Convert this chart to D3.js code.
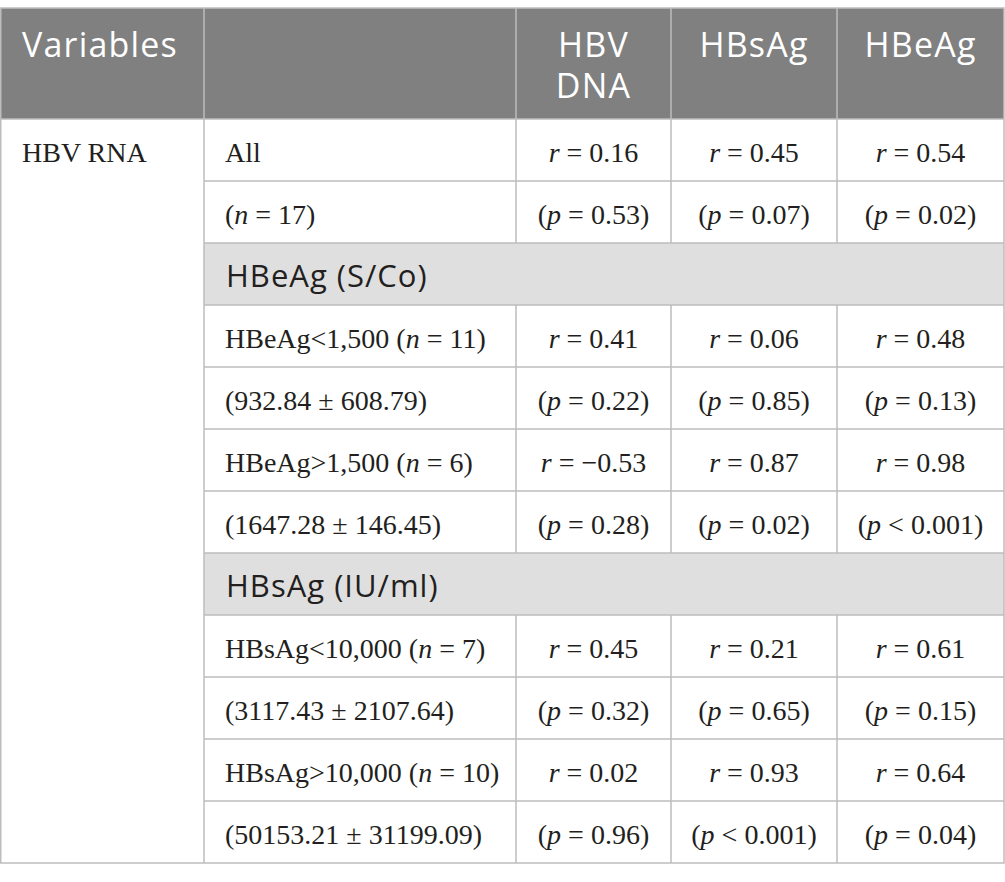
<!DOCTYPE html>
<html>
<head>
    <meta charset="UTF-8">
    <title>HBV RNA correlations</title>
    <script src="https://d3js.org/d3.v7.min.js"></script>
    <style>
        body { margin: 0; background: #fff; }
        .serif { font-family: "Liberation Serif", "Times New Roman", serif; font-size: 28px; fill: #231f20; }
        .sans { font-family: "Open Sans", "Noto Sans", sans-serif; }
    </style>
</head>
<body>
    <div id="table"></div>

    <script>
        // Table content
        var headers = ["Variables", "", "HBV DNA", "HBsAg", "HBeAg"];
        var variable = "HBV RNA";
        var groupLabels = ["All", "HBeAg<1,500 (*n* = 11)", "HBeAg>1,500 (*n* = 6)",
                           "HBsAg<10,000 (*n* = 7)", "HBsAg>10,000 (*n* = 10)"];
        var groupSubLabels = ["(*n* = 17)", "(932.84 ± 608.79)", "(1647.28 ± 146.45)",
                              "(3117.43 ± 2107.64)", "(50153.21 ± 31199.09)"];
        var rDNA   = [0.16, 0.41, -0.53, 0.45, 0.02];
        var rHBsAg = [0.45, 0.06, 0.87, 0.21, 0.93];
        var rHBeAg = [0.54, 0.48, 0.98, 0.61, 0.64];
        var pDNA   = ["= 0.53", "= 0.22", "= 0.28", "= 0.32", "= 0.96"];
        var pHBsAg = ["= 0.07", "= 0.85", "= 0.02", "= 0.65", "< 0.001"];
        var pHBeAg = ["= 0.02", "= 0.13", "< 0.001", "= 0.15", "= 0.04"];
        var sectionTitles = ["HBeAg (S/Co)", "HBsAg (IU/ml)"];
        var sectionBefore = [1, 3];   // section header goes before this group

        var width = 1005, height = 882;
        var colEdges = [0, 204, 516, 671, 837, 1004];
        var tableTop = 8, headerH = 111, rowH = 62;
        var fmt = d3.format(".2f");
        var lineColor = "#bdbdbd";

        // build the list of body rows
        var rows = [];
        groupLabels.forEach(function (g, i) {
            var s = sectionBefore.indexOf(i);
            if (s >= 0) rows.push({type: "section", title: sectionTitles[s]});
            rows.push({type: "data", label: g,
                cells: ["*r* = " + fmt(rDNA[i]), "*r* = " + fmt(rHBsAg[i]), "*r* = " + fmt(rHBeAg[i])]});
            rows.push({type: "data", label: groupSubLabels[i],
                cells: ["(*p* " + pDNA[i] + ")", "(*p* " + pHBsAg[i] + ")", "(*p* " + pHBeAg[i] + ")"]});
        });

        var y = d3.scaleLinear().domain([0, rows.length])
            .range([tableTop + headerH, tableTop + headerH + rows.length * rowH]);
        var bodyBottom = y(rows.length);

        var svg = d3.select("#table").append("svg")
            .attr("width", width)
            .attr("height", height);

        // write text with *italic* parts as tspans
        function richText(sel, str) {
            str.split("*").forEach(function (part, k) {
                if (!part) return;
                sel.append("tspan")
                    .style("font-style", k % 2 ? "italic" : "normal")
                    .text(part);
            });
        }

        // header
        svg.append("rect")
            .attr("x", colEdges[0]).attr("y", tableTop)
            .attr("width", colEdges[5] - colEdges[0]).attr("height", headerH)
            .attr("fill", "#808080");

        headers.forEach(function (h, i) {
            if (!h) return;
            var lines = (i == 2) ? h.split(" ") : [h];
            var t = svg.append("text")
                .attr("class", "sans")
                .attr("fill", "#fff")
                .style("font-size", "34px")
                .style("letter-spacing", "1.2px")
                .attr("text-anchor", i == 0 ? "start" : "middle");
            lines.forEach(function (l, k) {
                t.append("tspan")
                    .attr("x", i == 0 ? colEdges[0] + 22 : (colEdges[i] + colEdges[i + 1]) / 2)
                    .attr("y", tableTop + 49 + k * 41)
                    .text(l);
            });
        });

        // section backgrounds
        rows.forEach(function (r, i) {
            if (r.type != "section") return;
            svg.append("rect")
                .attr("x", colEdges[1]).attr("y", y(i))
                .attr("width", colEdges[5] - colEdges[1]).attr("height", rowH)
                .attr("fill", "#e0dfe0");
            svg.append("text")
                .attr("class", "sans")
                .attr("fill", "#231f20")
                .style("font-size", "31px")
                .style("letter-spacing", "1px")
                .attr("x", colEdges[1] + 22)
                .attr("y", y(i) + 44)
                .text(r.title);
        });

        // variable name (spans all rows)
        svg.append("text")
            .attr("class", "serif")
            .attr("x", colEdges[0] + 22)
            .attr("y", y(0) + 43)
            .text(variable);

        // data rows
        rows.forEach(function (r, i) {
            if (r.type != "data") return;
            richText(svg.append("text")
                .attr("class", "serif")
                .attr("x", colEdges[1] + 21)
                .attr("y", y(i) + 43), r.label);
            r.cells.forEach(function (c, j) {
                richText(svg.append("text")
                    .attr("class", "serif")
                    .attr("text-anchor", "middle")
                    .attr("x", (colEdges[j + 2] + colEdges[j + 3]) / 2)
                    .attr("y", y(i) + 43), c);
            });
        });

        // grid lines
        var g = svg.append("g").attr("stroke", lineColor).attr("stroke-width", 1.5);
        // outer box
        g.append("rect")
            .attr("x", colEdges[0] + 0.75).attr("y", tableTop)
            .attr("width", colEdges[5] - colEdges[0] - 0.75).attr("height", bodyBottom - tableTop)
            .attr("fill", "none");
        // header bottom
        g.append("line").attr("x1", colEdges[0]).attr("x2", colEdges[5])
            .attr("y1", y(0)).attr("y2", y(0));
        // horizontal lines between body rows (not in the first column)
        d3.range(1, rows.length).forEach(function (i) {
            g.append("line").attr("x1", colEdges[1]).attr("x2", colEdges[5])
                .attr("y1", y(i)).attr("y2", y(i));
        });
        // vertical lines
        colEdges.slice(1, 5).forEach(function (x, k) {
            if (k == 0) {
                g.append("line").attr("x1", x).attr("x2", x).attr("y1", tableTop).attr("y2", bodyBottom);
                return;
            }
            // header part
            g.append("line").attr("x1", x).attr("x2", x).attr("y1", tableTop).attr("y2", y(0));
            // body, skipping section rows
            rows.forEach(function (r, i) {
                if (r.type == "section") return;
                g.append("line").attr("x1", x).attr("x2", x).attr("y1", y(i)).attr("y2", y(i + 1));
            });
        });
    </script>
</body>
</html>
